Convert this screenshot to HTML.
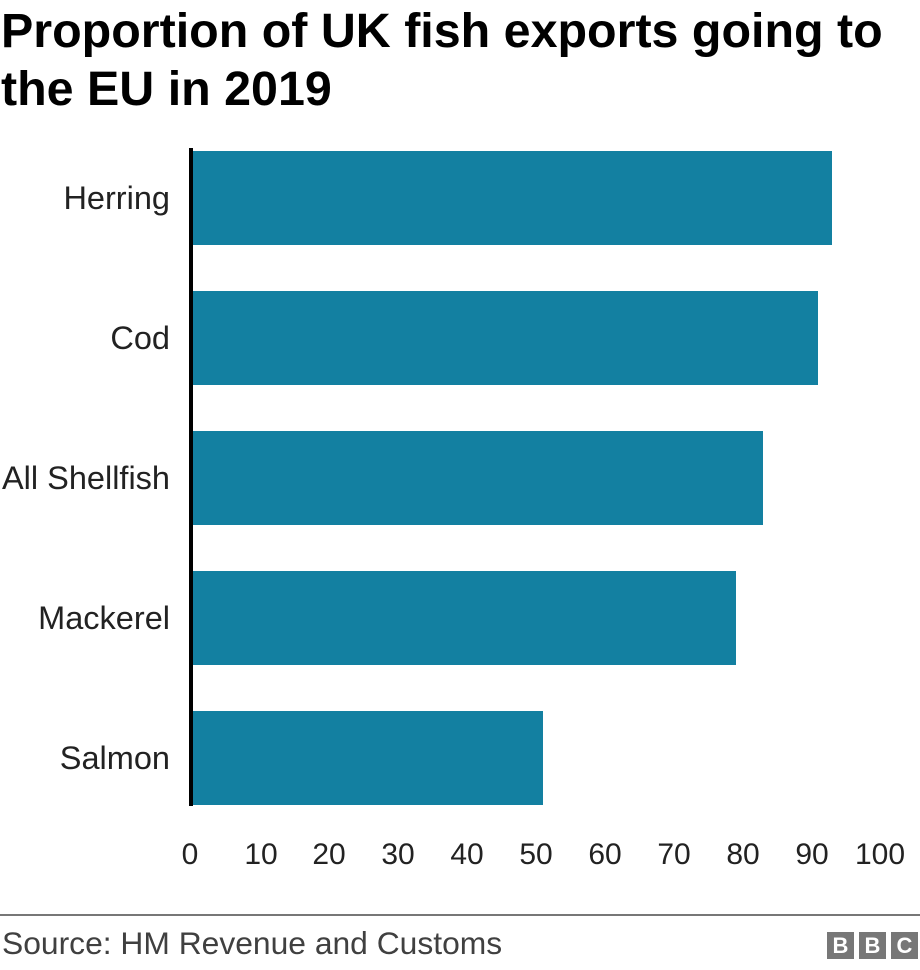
<!DOCTYPE html>
<html><head><meta charset="utf-8"><style>
body{margin:0;width:920px;height:970px;background:#fff;font-family:"Liberation Sans",Arial,sans-serif;position:relative;overflow:hidden}
.t{position:absolute;left:1px;top:2px;font-size:48.4px;font-weight:bold;line-height:58px;color:#000;white-space:nowrap}
.bar{position:absolute;left:193px;height:94px;background:#1380a1}
.lab{position:absolute;right:750px;font-size:32.5px;color:#222;white-space:nowrap;line-height:36px}
.tick{position:absolute;top:837px;font-size:30px;color:#222;width:80px;text-align:center;margin-left:-40px;line-height:36px}
.bb{position:absolute;top:932px;width:27px;height:27px;background:#777;color:#fff;font-weight:bold;font-size:22px;text-align:center;line-height:28px}
</style></head><body>
<div class="t">Proportion of UK fish exports going to<br>the EU in 2019</div>
<div style="position:absolute;left:189px;top:148px;width:4px;height:658px;background:#000"></div>
<div class="bar" style="top:151px;width:639px"></div>
<div class="bar" style="top:291px;width:625px"></div>
<div class="bar" style="top:431px;width:570px"></div>
<div class="bar" style="top:571px;width:543px"></div>
<div class="bar" style="top:711px;width:350px"></div>
<div class="lab" style="top:180px">Herring</div>
<div class="lab" style="top:320px">Cod</div>
<div class="lab" style="top:460px">All Shellfish</div>
<div class="lab" style="top:600px">Mackerel</div>
<div class="lab" style="top:740px">Salmon</div>
<div class="tick" style="left:190px">0</div>
<div class="tick" style="left:261px">10</div>
<div class="tick" style="left:329px">20</div>
<div class="tick" style="left:398px">30</div>
<div class="tick" style="left:467px">40</div>
<div class="tick" style="left:536px">50</div>
<div class="tick" style="left:605px">60</div>
<div class="tick" style="left:674px">70</div>
<div class="tick" style="left:743px">80</div>
<div class="tick" style="left:812px">90</div>
<div class="tick" style="left:880px">100</div>
<div style="position:absolute;left:0;top:914px;width:920px;height:2px;background:#777"></div>
<div style="position:absolute;left:2px;top:925px;font-size:31.8px;color:#404040;line-height:36px;white-space:nowrap">Source: HM Revenue and Customs</div>
<div class="bb" style="left:827px">B</div>
<div class="bb" style="left:859px">B</div>
<div class="bb" style="left:891px">C</div>
</body></html>
